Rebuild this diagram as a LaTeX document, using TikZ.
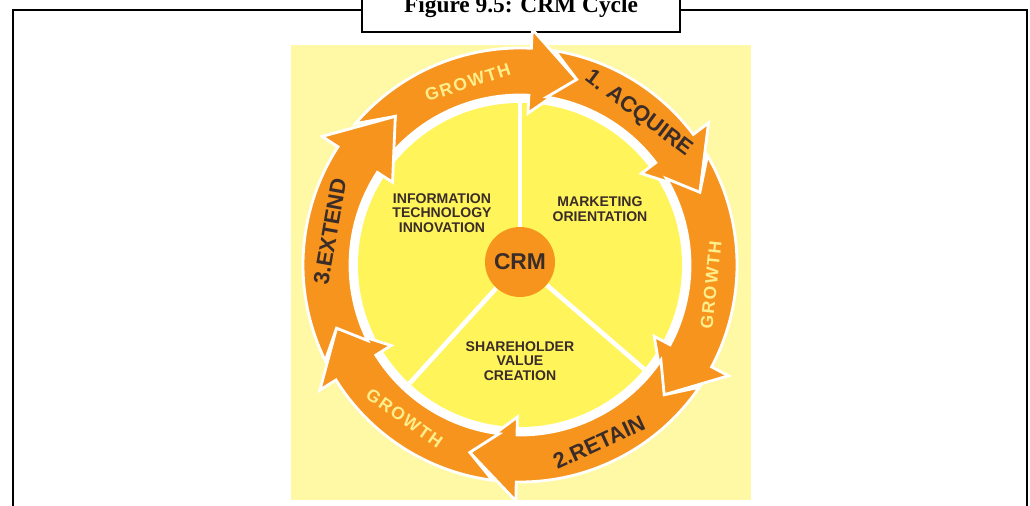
\documentclass[tikz,border=0pt]{standalone}
\usepackage{fontspec}
\setmainfont{Liberation Serif}
\newfontfamily\diagfont{Liberation Sans}
\newfontfamily\ringfont[LetterSpace=10]{Liberation Sans}

\definecolor{paleyellow}{RGB}{255,249,166}
\definecolor{diskyellow}{RGB}{255,244,90}
\definecolor{ringorange}{RGB}{247,148,29}
\definecolor{growthtext}{RGB}{255,238,140}
\definecolor{darktext}{RGB}{58,44,40}

% one arrow of the ring: previous head back, previous tip, head back, tip
\newcommand{\ringseg}[4]{%
  \pgfmathsetmacro{\tailout}{#1+0.45*(#2-#1)}
  \pgfmathsetmacro{\tailin}{#1+0.43*(#2-#1)}
  \filldraw[seg] (\tailout:217) arc[start angle=\tailout, end angle=#3, radius=217]
    -- (#3:236) -- (#4:194) -- (#3:152) -- (#3:170)
    arc[start angle=#3, end angle=\tailin, radius=170] -- (#2:194) -- cycle;
}

\begin{document}
\begin{tikzpicture}[
  x=0.02cm, y=0.02cm,
  seg/.style={fill=ringorange, draw=white, line width=1.6pt},
  ringlabel/.style={font=\diagfont\bfseries\fontsize{12.5}{12.5}\selectfont, text=darktext, inner sep=0},
  growthlabel/.style={font=\ringfont\bfseries\fontsize{10}{10}\selectfont, text=growthtext, inner sep=0},
  sector/.style={font=\diagfont\bfseries\fontsize{8}{8.3}\selectfont, text=darktext, align=center, inner sep=0},
  hub/.style={circle, fill=ringorange, minimum size=1.4cm, inner sep=0,
    font=\diagfont\bfseries\fontsize{13}{13}\selectfont, text=darktext},
  divider/.style={draw=white, line width=2.6pt},
  frame/.style={draw=black, line width=1.4pt},
  titlebox/.style={draw=black, fill=white, line width=1.4pt, anchor=south, inner sep=0,
    minimum width=6.36cm, text height=0.6cm, text depth=0.38cm,
    font=\bfseries\fontsize{13.3}{14}\selectfont}
]
\useasboundingbox (0,0) rectangle (1030,506);
\clip (0,0) rectangle (1030,506);

% page frame and caption
\draw[frame] (13,-10) -- (13,496) -- (1027,496) -- (1027,-10);
\node[titlebox] (title) at (521,473) {Figure 9.5: CRM Cycle};

% picture background
\fill[paleyellow] (291,6) rectangle (751,461);

\begin{scope}[shift={(520,241)}]
  \fill[white] (0,0) circle[radius=170];
  \fill[diskyellow] (0,0) circle[radius=162];

  \coordinate (d1) at (90:162);
  \coordinate (d2) at (-40:162);
  \coordinate (d3) at (-133:162);
  \node[hub] (crm) at (0,3) {CRM};
  \draw[divider] (crm) -- (d1);
  \draw[divider] (crm) -- (d2);
  \draw[divider] (crm) -- (d3);

  \node[sector] (itinno) at (-78,52) {INFORMATION\\TECHNOLOGY\\INNOVATION};
  \node[sector] (market) at (80,56) {MARKETING\\ORIENTATION};
  \node[sector] (share) at (0,-96) {SHAREHOLDER\\VALUE\\CREATION};

  % the six arrows, clockwise
  \ringseg{147}{130}{87}{73}
  \ringseg{87}{73}{37}{22}
  \ringseg{37}{22}{-28}{-42}
  \ringseg{-28}{-42}{-91}{-105}
  \ringseg{-91}{-105}{-148}{-161}
  \ringseg{212}{199}{147}{130}

  \node[growthlabel, rotate=18] (grow1) at (106:190) {GROWTH};
  \node[ringlabel, rotate=-37] (acquire) at (52:192) {1. ACQUIRE};
  \node[growthlabel, rotate=84] (grow2) at (-6:192) {GROWTH};
  \node[ringlabel, rotate=25] (retain) at (-66:194) {2.RETAIN};
  \node[growthlabel, rotate=-35] (grow3) at (-127:192) {GROWTH};
  \node[ringlabel, rotate=80] (extend) at (170:193) {3.EXTEND};
\end{scope}
\end{tikzpicture}
\end{document}
